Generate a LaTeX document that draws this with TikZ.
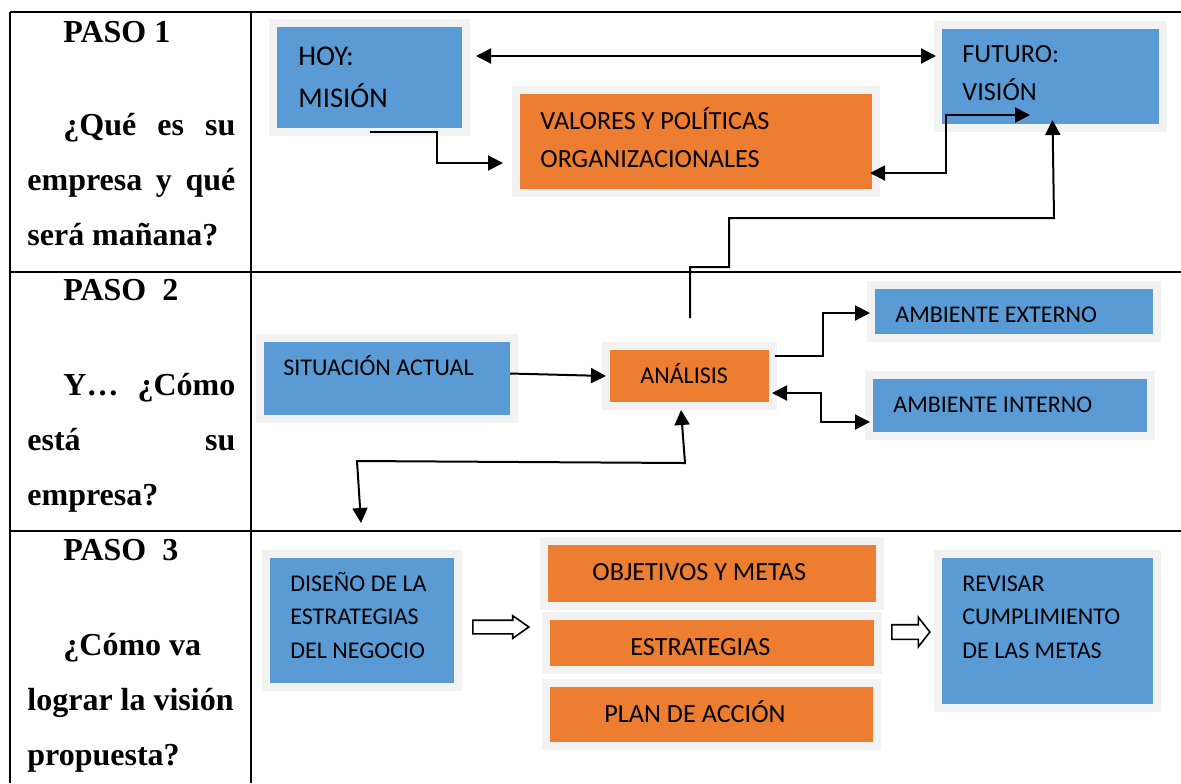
\documentclass[tikz,border=0pt]{standalone}
\usepackage{fontspec}
\setmainfont{Liberation Serif}
\newfontfamily\carlito{Carlito}
\usetikzlibrary{arrows.meta,calc,shapes.arrows}
\definecolor{boxblue}{HTML}{5B9BD5}
\definecolor{boxorange}{HTML}{ED7D31}
\definecolor{framegray}{HTML}{F2F2F2}

\begin{document}
\begin{tikzpicture}[
    x=0.5pt, y=-0.5pt,
    box/.style={rectangle, draw=framegray, line width=4pt, inner sep=0pt, outer sep=0pt},
    bluebox/.style={box, fill=boxblue},
    orangebox/.style={box, fill=boxorange},
    txt/.style={anchor=base west, align=left, inner sep=0pt},
    txtL/.style={txt, font=\carlito\fontsize{14.3}{21}\selectfont},
    txtM/.style={txt, font=\carlito\fontsize{13.1}{19}\selectfont},
    txtS/.style={txt, font=\carlito\fontsize{12}{16.75}\selectfont},
    steptxt/.style={txt, font=\bfseries\fontsize{16}{27.5}\selectfont},
    conn/.style={line width=1pt, -{Triangle[length=7.5pt,width=7.5pt]}},
    biconn/.style={line width=1pt, {Triangle[length=7.5pt,width=7.5pt]}-{Triangle[length=7.5pt,width=7.5pt]}},
    hollow/.style={single arrow, draw, fill=white, line width=0.8pt, inner xsep=0pt, single arrow head indent=0pt},
]
    \useasboundingbox (0,0) rectangle (1181,783);

    % table
    \foreach \y in {12,271.5,531}
        \draw[line width=1pt] (10,\y) -- (1181,\y);
    \foreach \x in {10,251}
        \draw[line width=1pt] (\x,11.5) -- (\x,783);

    % left column (multi-line nodes sit on their last baseline)
    \node[steptxt] (paso1) at (63,42) {PASO 1};
    \node[steptxt] (preg1) at (27,245) {\hspace*{18pt}\makebox[86pt][s]{¿Qué es su}\\\makebox[104pt][s]{empresa y qué}\\será mañana?};
    \node[steptxt] (paso2) at (63,300) {PASO\ \ 2};
    \node[steptxt] (preg2) at (27,505) {\hspace*{18pt}\makebox[86pt][s]{Y… ¿Cómo}\\\makebox[104pt][s]{está su}\\empresa?};
    \node[steptxt] (paso3) at (63,560) {PASO\ \ 3};
    \node[steptxt] (preg3) at (27,765) {\hspace*{18pt}¿Cómo va\\lograr la visión\\propuesta?};

    % PASO 1 boxes
    \node[bluebox, minimum width=96.5pt, minimum height=54.5pt] (hoy) at (369.5,77.5) {};
    \node[txtL] (hoyT) at (298,107) {HOY:\\MISIÓN};
    \node[orangebox, minimum width=180pt, minimum height=51.5pt] (valores) at (696,141.5) {};
    \node[txtM] (valoresT) at (540,167) {VALORES Y POLÍTICAS\\ORGANIZACIONALES};
    \node[bluebox, minimum width=112.5pt, minimum height=51.5pt] (futuro) at (1050.5,76.5) {};
    \node[txtM] (futuroT) at (962,100) {FUTURO:\\VISIÓN};

    % PASO 2 boxes
    \node[bluebox, minimum width=127pt, minimum height=40.5pt] (situacion) at (387,378.5) {};
    \node[txtS] (situacionT) at (283,375) {SITUACIÓN ACTUAL};
    \node[orangebox, minimum width=83.5pt, minimum height=30pt] (analisis) at (689.5,376) {};
    \node[txtS] (analisisT) at (640,383) {ANÁLISIS};
    \node[bluebox, minimum width=143pt, minimum height=26.5pt] (externo) at (1014,311.5) {};
    \node[txtS] (externoT) at (895,322) {AMBIENTE EXTERNO};
    \node[bluebox, minimum width=141pt, minimum height=30.5pt] (interno) at (1010,405.5) {};
    \node[txtS] (internoT) at (893,412) {AMBIENTE INTERNO};

    % PASO 3 boxes
    \node[bluebox, minimum width=96pt, minimum height=66.5pt] (diseno) at (362,620.5) {};
    \node[txtS] (disenoT) at (290,658) {DISEÑO DE LA\\ESTRATEGIAS\\DEL NEGOCIO};
    \node[orangebox, minimum width=168pt, minimum height=32.5pt] (objetivos) at (712,573.5) {};
    \node[txtM] (objetivosT) at (592,580) {OBJETIVOS Y METAS};
    \node[orangebox, minimum width=166pt, minimum height=27pt] (estrategias) at (712,643) {};
    \node[txtM] (estrategiasT) at (630,655) {ESTRATEGIAS};
    \node[orangebox, minimum width=165.5pt, minimum height=31.5pt] (plan) at (711.5,714.5) {};
    \node[txtM] (planT) at (604,722) {PLAN DE ACCIÓN};
    \node[bluebox, minimum width=109.5pt, minimum height=77pt] (revisar) at (1047.5,631) {};
    \node[txtS] (revisarT) at (962,658) {REVISAR\\CUMPLIMIENTO\\DE LAS METAS};
    \node[hollow, minimum height=28pt, inner ysep=3pt, single arrow head extend=2.25pt, single arrow tip angle=70] (flecha1) at (496,627) {};
    \node[hollow, minimum height=19pt, inner ysep=3.25pt, single arrow head extend=3.75pt, single arrow tip angle=104] (flecha2) at (908,632) {};

    % connectors
    \draw[biconn] ($(hoy.east)+(10,-21.5)$) -- ($(futuro.west)+(-2,-20.5)$);
    \draw[conn] (hoy.south) -- ++(67,0) |- ($(valores.west)+(-13,21.5)$);
    \draw[biconn] ($(valores.east)+(-6,31.5)$) -- ++(76,0) |- ($(futuro.south)+(-20.5,-13)$);
    \draw[conn] ($(analisis.north)+(0.5,-28)$) |- ++(39,-51) |- ++(325,-49) -- ($(futuro.south)+(2,-8)$);
    \draw[conn] ($(situacion.east)+(-4,-5)$) -- (analisis.west);
    \draw[conn] ($(analisis.east)+(2,-20)$) -- ++(48,0) |- ($(externo.west)+(-1,1.5)$);
    \draw[biconn] ($(analisis.east)+(-1,17)$) -- ++(49,0) |- ($(interno.west)+(1,16.5)$);
    \draw[biconn] ($(diseno.north)+(-1,-31)$) -- ++(-4,-62) -- ++(328,2) -- ($(analisis.south)+(-8.5,4)$);
\end{tikzpicture}
\end{document}
